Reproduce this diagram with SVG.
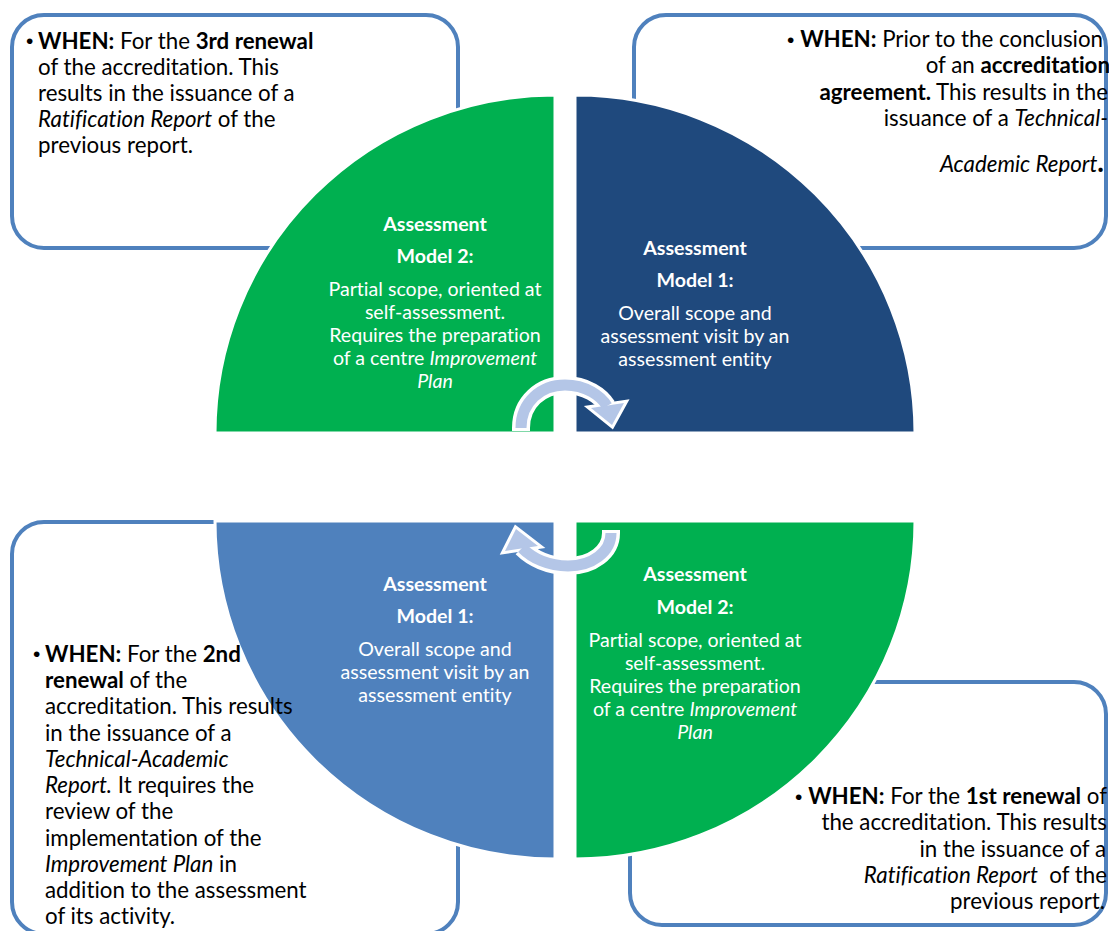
<svg xmlns="http://www.w3.org/2000/svg" width="1109" height="931" viewBox="0 0 1109 931">
<style>
.box{fill:#fff;stroke:#4F81BD;stroke-width:4}
.q{stroke:#fff;stroke-width:3}
.bt{font-family:Lato,"Liberation Sans",sans-serif;font-size:22.3px;fill:#000;font-variant-ligatures:none}
.bu{font-family:"Liberation Sans",sans-serif;font-size:21px;fill:#000}
.ct{font-family:Lato,"Liberation Sans",sans-serif;font-size:19.6px;fill:#fff;text-anchor:middle;font-variant-ligatures:none}
.hd{font-weight:bold}
.b{font-weight:bold}
.i{font-style:italic}
.bandw{fill:none;stroke:#fff;stroke-width:18}
.band{fill:none;stroke:#B4C6E7;stroke-width:11}
.headw{fill:#fff;stroke:#fff;stroke-width:6;stroke-linejoin:miter}
.head{fill:#B4C6E7}
</style>
<rect width="1109" height="931" fill="#fff"/>
<g id="box-tl">
<rect class="box" x="12" y="15" width="446" height="233" rx="32"/>
<text class="bu" x="26" y="48">•</text>
<text class="bt"><tspan x="38" y="49"><tspan class="b">WHEN:</tspan> For the <tspan class="b">3rd renewal</tspan></tspan><tspan x="38" y="75">of the accreditation. This</tspan><tspan x="38" y="101">results in the issuance of a</tspan><tspan x="38" y="127"><tspan class="i">Ratification Report</tspan> of the</tspan><tspan x="38" y="153">previous report.</tspan></text>
</g>
<g id="box-tr">
<rect class="box" x="634" y="15" width="472" height="233" rx="32"/>
<text class="bt" text-anchor="end"><tspan x="1103" y="47"><tspan font-family="Liberation Sans" font-size="21">•</tspan> <tspan class="b">WHEN:</tspan> Prior to the conclusion</tspan><tspan x="1110" y="73">of an <tspan class="b">accreditation</tspan></tspan><tspan x="1108" y="100"><tspan class="b">agreement.</tspan> This results in the</tspan><tspan x="1108" y="126">issuance of a <tspan class="i">Technical-</tspan></tspan><tspan x="1104" y="172"><tspan class="i">Academic Report</tspan><tspan class="b" font-size="28">.</tspan></tspan></text>
</g>
<g id="box-br">
<rect class="box" x="630" y="682" width="476" height="243" rx="32"/>
<text class="bt" text-anchor="end"><tspan x="1107" y="804"><tspan font-family="Liberation Sans" font-size="21">•</tspan> <tspan class="b">WHEN:</tspan> For the <tspan class="b">1st renewal</tspan> of</tspan><tspan x="1107" y="830">the accreditation. This results</tspan><tspan x="1106" y="857">in the issuance of a</tspan><tspan x="1107" y="883"><tspan class="i">Ratification Report</tspan> &#160;of the</tspan><tspan x="1105" y="909">previous report.</tspan></text>
</g>
<g id="box-bl">
<rect class="box" x="12" y="522" width="446" height="412" rx="32"/>
</g>
<g id="model2-top">
<path class="q" fill="#00B050" d="M555 433 L215 433 A340 338 0 0 1 555 95 Z"/>
<text class="ct"><tspan class="hd" x="435" y="231">Assessment</tspan><tspan class="hd" x="435" y="263">Model 2:</tspan><tspan x="435" y="296">Partial scope, oriented at</tspan><tspan x="435" y="319">self-assessment.</tspan><tspan x="435" y="342">Requires the preparation</tspan><tspan x="435" y="365">of a centre <tspan class="i">Improvement</tspan></tspan><tspan class="i" x="435" y="388">Plan</tspan></text>
</g>
<g id="model1-top">
<path class="q" fill="#1F497D" d="M575 433 L575 95 A340 338 0 0 1 915 433 Z"/>
<text class="ct"><tspan class="hd" x="695" y="255">Assessment</tspan><tspan class="hd" x="695" y="287">Model 1:</tspan><tspan x="695" y="320">Overall scope and</tspan><tspan x="695" y="343">assessment visit by an</tspan><tspan x="695" y="366">assessment entity</tspan></text>
</g>
<g id="model1-bottom">
<path class="q" fill="#4F81BD" d="M555 521 L555 859 A340 338 0 0 1 215 521 Z"/>
<text class="ct"><tspan class="hd" x="435" y="591">Assessment</tspan><tspan class="hd" x="435" y="623">Model 1:</tspan><tspan x="435" y="656">Overall scope and</tspan><tspan x="435" y="679">assessment visit by an</tspan><tspan x="435" y="702">assessment entity</tspan></text>
</g>
<g id="model2-bottom">
<path class="q" fill="#00B050" d="M575 521 L915 521 A340 338 0 0 1 575 859 Z"/>
<text class="ct"><tspan class="hd" x="695" y="581">Assessment</tspan><tspan class="hd" x="695" y="614">Model 2:</tspan><tspan x="695" y="647">Partial scope, oriented at</tspan><tspan x="695" y="670">self-assessment.</tspan><tspan x="695" y="693">Requires the preparation</tspan><tspan x="695" y="716">of a centre <tspan class="i">Improvement</tspan></tspan><tspan class="i" x="695" y="739">Plan</tspan></text>
</g>
<g id="connectors">
<path class="bandw" d="M521 431 L521 428 C521 402 541 385 565 385 C586 385 601 396 607 406"/>
<polygon class="headw" points="591,408 624,403 612,425"/>
<path class="band" d="M521 428 C521 402 541 385 565 385 C586 385 601 396 607 406"/>
<polygon class="head" points="591,408 624,403 612,425"/>
<path class="bandw" d="M611 530 L611 533 C611 552 592 566 568 566 C548 566 532 558 522 548"/>
<polygon class="headw" points="538,546 505,551 516,529"/>
<path class="band" d="M611 533 C611 552 592 566 568 566 C548 566 532 558 522 548"/>
<polygon class="head" points="538,546 505,551 516,529"/>
</g>
<g id="box-bl-text">
<text class="bu" x="33" y="661">•</text>
<text class="bt"><tspan x="45" y="662"><tspan class="b">WHEN:</tspan> For the <tspan class="b">2nd</tspan></tspan><tspan x="45" y="688"><tspan class="b">renewal</tspan> of the</tspan><tspan x="45" y="714">accreditation. This results</tspan><tspan x="45" y="741">in the issuance of a</tspan><tspan class="i" x="45" y="767">Technical-Academic</tspan><tspan x="45" y="793"><tspan class="i">Report.</tspan> It requires the</tspan><tspan x="45" y="819">review of the</tspan><tspan x="45" y="846">implementation of the</tspan><tspan x="45" y="872"><tspan class="i">Improvement Plan</tspan> in</tspan><tspan x="45" y="898">addition to the assessment</tspan><tspan x="45" y="924">of its activity.</tspan></text>
</g>
</svg>
